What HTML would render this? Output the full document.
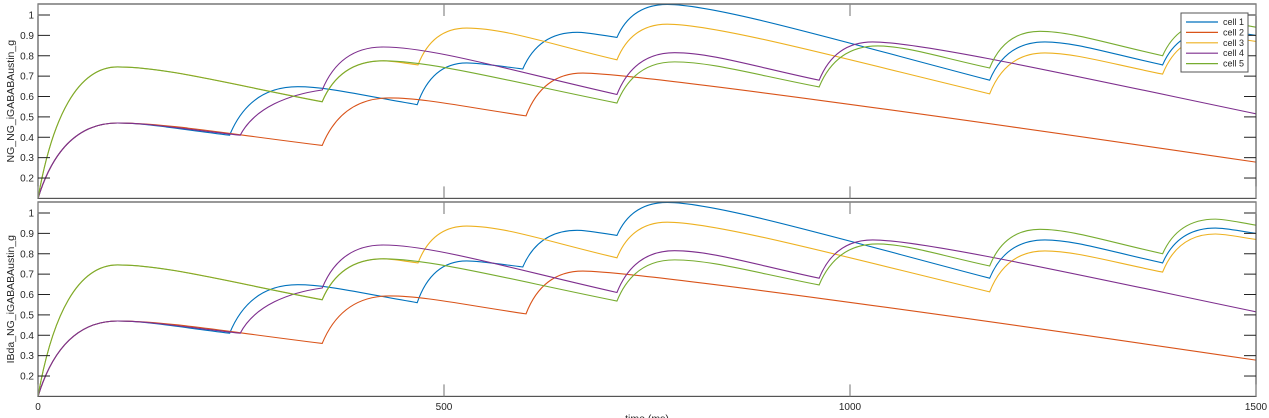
<!DOCTYPE html>
<html><head><meta charset="utf-8"><style>
html,body{margin:0;padding:0;background:#fff}
svg{display:block;font-family:"Liberation Sans",sans-serif}
</style></head><body>
<svg id="chart" width="1269" height="418" viewBox="0 0 1269 418"></svg>
<script>
const cellNames = ["cell 1","cell 2","cell 3","cell 4","cell 5"];
const colors = ["#0072BD","#D95319","#EDB120","#7E2F8E","#77AC30"];
const cell1T = [0,98,236,320,467,528,597,664,713,775,1172,1240,1385,1450,1500];
const cell1V = [0.1,0.47,0.41,0.648,0.56,0.765,0.735,0.915,0.89,1.052,0.68,0.868,0.755,0.926,0.90];
const cell2T = [0,98,350,433,601,671,1500];
const cell2V = [0.1,0.47,0.36,0.593,0.505,0.715,0.278];
const cell3T = [0,98,350,425,468,528,713,775,1172,1240,1385,1450,1500];
const cell3V = [0.1,0.745,0.575,0.775,0.755,0.936,0.78,0.955,0.613,0.814,0.71,0.897,0.87];
const cell4T = [0,98,249,350,425,713,784,962,1028,1500];
const cell4V = [0.1,0.47,0.41,0.632,0.843,0.61,0.815,0.68,0.868,0.515];
const cell5T = [0,98,350,425,713,784,962,1034,1172,1234,1385,1450,1500];
const cell5V = [0.1,0.745,0.574,0.775,0.568,0.77,0.647,0.848,0.74,0.92,0.8,0.97,0.94];
const yTicks = [0.2,0.3,0.4,0.5,0.6,0.7,0.8,0.9,1];
const xTicks = [0,500,1000,1500];
const yLabels = ["NG_NG_iGABABAustin_g","IBda_NG_iGABABAustin_g"];
const series = [[cell1T,cell1V],[cell2T,cell2V],[cell3T,cell3V],[cell4T,cell4V],[cell5T,cell5V]];

const NS="http://www.w3.org/2000/svg";
const svg=document.getElementById('chart');
function mk(tag,attrs,parent){const e=document.createElementNS(NS,tag);for(const k in attrs)e.setAttribute(k,attrs[k]);(parent||svg).appendChild(e);return e;}
const X0=38,X1=1256,XMAX=1500;
const xs=t=>X0+(t/XMAX)*(X1-X0);
const panels=[{top:4,bot:198.4},{top:202,bot:396.4}];
const YMIN=0.1,YMAX=1.054;

panels.forEach((p,pi)=>{
  const ys=v=>p.bot-(v-YMIN)/(YMAX-YMIN)*(p.bot-p.top);
  const g=mk('g',{});
  
  
  const clipId='clip'+pi;
  const cp=mk('clipPath',{id:clipId},g);mk('rect',{x:X0,y:p.top,width:X1-X0,height:p.bot-p.top},cp);
  // series
  const sg=mk('g',{'clip-path':'url(#'+clipId+')'},g);
  series.forEach((s,si)=>{
    const T=s[0],V=s[1];
    let d='M'+xs(T[0]).toFixed(2)+','+ys(V[0]).toFixed(2);
    for(let i=0;i<T.length-1;i++){
      const t0=T[i],v0=V[i],t1=T[i+1],v1=V[i+1],dt=t1-t0,dv=v1-v0;
      let c1,c2;
      if(dv>0){
        const isPeak=(i+2>=T.length)||V[i+2]<v1;
        c1=[t0+dt*0.18,v0+dv*0.62];
        c2=isPeak?[t0+dt*0.5,v1]:[t0+dt*0.6,v1-dv*0.1];
      }else{
        const fromPeak=i>0&&V[i-1]<v0;
        c1=fromPeak?[t0+Math.min(dt*0.25,60),v0]:[t0+dt*0.33,v0+dv*0.33];
        c2=[t0+dt*0.55,v0+dv*0.5];
      }
      d+=' C'+xs(c1[0]).toFixed(2)+','+ys(c1[1]).toFixed(2)+' '+xs(c2[0]).toFixed(2)+','+ys(c2[1]).toFixed(2)+' '+xs(t1).toFixed(2)+','+ys(v1).toFixed(2);
    }
    const path=mk('path',{d:d,fill:'none',stroke:colors[si],'stroke-width':1.1},sg);
    
    
  });
  // axes box
  const box=mk('rect',{x:X0,y:p.top,width:X1-X0,height:p.bot-p.top,fill:'none',stroke:'#555','stroke-width':1.2},g);
  
  
  yTicks.forEach(v=>{
    const y=ys(v);
    mk('line',{x1:X0,y1:y,x2:X0+12,y2:y,stroke:'#222','stroke-width':1},g);
    mk('line',{x1:X1-12,y1:y,x2:X1,y2:y,stroke:'#222','stroke-width':1},g);
    const tx=mk('text',{x:X0-4,y:y+3.5,'text-anchor':'end','font-size':10,fill:'#262626'},g);
    tx.textContent=String(v);
    
    
  });
  xTicks.forEach(t=>{
    const x=xs(t);
    mk('line',{x1:x,y1:p.top,x2:x,y2:p.top+12,stroke:'#888','stroke-width':1.2},g);
    mk('line',{x1:x,y1:p.bot-12,x2:x,y2:p.bot,stroke:'#888','stroke-width':1.2},g);
    if(pi===1){
      const tx=mk('text',{x:x,y:410,'text-anchor':'middle','font-size':10,fill:'#262626'},g);
      tx.textContent=String(t);
      
      
    }
  });
  const cy=(p.top+p.bot)/2;
  const yl=mk('text',{x:14,y:cy,'text-anchor':'middle','font-size':10.5,fill:'#262626',transform:'rotate(-90 14 '+cy+')'},g);
  yl.textContent=yLabels[pi];
  
  
});
const xl=mk('text',{x:647,y:422,'text-anchor':'middle','font-size':10.5,fill:'#262626'});
xl.textContent='time (ms)';



// legend
const lg=mk('g',{});


mk('rect',{x:1181,y:13,width:67,height:59,fill:'#fff',stroke:'#555','stroke-width':1},lg);
cellNames.forEach((n,i)=>{
  const y=22+i*10.4;
  const e=mk('g',{},lg);
  
  
  mk('line',{x1:1186,y1:y,x2:1218,y2:y,stroke:colors[i],'stroke-width':1.2},e);
  const t=mk('text',{x:1244,y:y+3,'text-anchor':'end','font-size':9,fill:'#262626'},e);
  t.textContent=n;
});
</script>
</body></html>
